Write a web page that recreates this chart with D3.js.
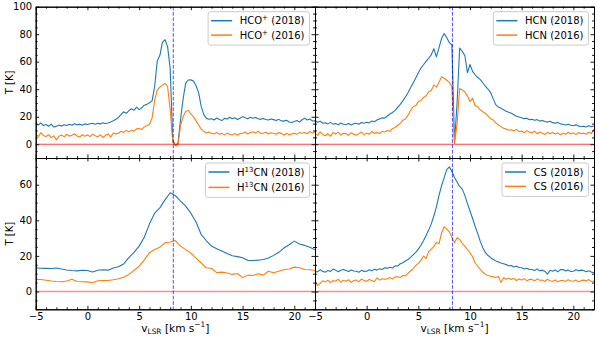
<!DOCTYPE html>
<html><head><meta charset="utf-8">
<script src="https://cdn.jsdelivr.net/npm/d3@7"></script>
<style>body{margin:0;background:#fff}svg{display:block;font-family:"DejaVu Sans",sans-serif}</style>
</head><body><svg id="c" width="598" height="339"></svg>
<script>
// ---- data (velocity grid: start -5 km/s; fine step 0.25, coarse step 0.5) ----
const velStart = -5;
const stepFine = 0.25;
const stepCoarse = 0.5;

const hcop2018 = [
 15.2,14.0,15.5,13.6, 14.3,13.1,14.6,12.5,
 13.0,13.9,13.2,14.2, 13.6,14.5,13.8,14.9,
 14.1,14.6,13.9,14.8, 14.3,14.9,15.3,14.6,
 15.2,14.8,15.6,15.1, 15.4,16.1,17.0,18.2,
 19.5,21.5,23.6,22.5, 24.3,25.8,24.6,27.0,
 25.2,26.5,28.4,29.0, 30.2,31.5,42.0,60.5,
 64.5,74.0,76.0,71.0, 55.0,3.0,-0.5,0.5,
 18.0,33.0,44.5,46.7, 46.8,46.0,42.5,37.5,
 27.5,21.5,18.8,18.2, 18.5,17.6,19.1,18.0,
 17.2,18.8,18.3,19.6, 18.5,19.2,18.0,18.9,
 20.1,19.2,18.5,19.6, 18.9,19.5,18.6,18.1,
 18.8,18.0,17.6,18.4, 17.9,17.3,18.1,17.0,
 16.8,17.5,16.2,15.8, 16.5,17.2,16.1,17.8,
 19.0,17.6,18.4,16.9,
 17.0];
const hcop2016 = [
 7.8,5.5,8.4,6.2, 5.6,7.0,4.8,6.1,
 3.2,5.9,6.8,5.4, 7.1,5.9,6.6,7.6,
 6.0,5.2,6.9,5.8, 6.8,5.6,7.3,6.2,
 5.5,6.8,4.9,6.5, 7.5,5.2,8.2,7.4,
 8.0,9.4,8.6,10.1, 9.0,10.3,9.5,11.2,
 11.5,10.8,12.6,13.5, 14.5,19.0,32.0,39.5,
 41.5,43.0,44.3,42.0, 25.0,1.5,-1.2,-1.0,
 13.5,20.0,24.0,24.5, 22.0,20.0,17.0,14.0,
 11.0,9.5,8.2,8.8, 8.0,7.4,8.6,7.2,
 7.9,6.8,8.1,7.3, 6.7,7.9,6.5,7.6,
 8.0,8.9,7.4,8.6, 9.0,8.1,9.5,7.8,
 8.0,8.7,7.5,8.3, 8.0,7.3,8.5,7.9,
 6.7,7.8,6.9,7.5, 8.0,7.2,8.6,8.0,
 8.5,7.6,9.2,8.1,
 9.0];
const hcn2018 = [
 17.2,16.0,16.8,15.3, 15.6,14.8,15.9,14.6,
 15.0,14.2,15.4,14.5, 14.3,15.1,14.0,14.9,
 15.2,14.6,15.8,15.3, 16.0,15.5,16.9,16.4,
 17.6,18.4,19.2,19.0, 20.5,22.0,23.1,24.6,
 26.8,29.0,31.5,34.3, 37.5,41.0,44.6,48.2,
 52.0,55.3,57.8,60.2, 62.5,65.0,69.5,63.5,
 70.0,77.0,80.5,77.5, 74.0,72.0,1.0,30.0,
 70.0,67.5,64.5,52.0, 58.0,53.0,50.5,48.5,
 47.0,44.5,42.0,40.0, 37.5,33.0,28.6,27.0,
 26.2,25.0,24.0,23.2, 22.5,21.4,20.3,19.8,
 19.2,18.6,18.9,17.8, 18.1,17.4,17.9,16.8,
 17.3,16.5,16.1,16.7, 15.7,15.2,15.9,14.8,
 14.5,14.0,14.6,13.8, 13.5,14.1,13.2,12.9,
 13.0,12.6,13.4,12.8,
 13.3];
const hcn2016 = [
 8.2,6.4,9.0,7.1, 6.2,7.8,5.9,8.5,
 7.4,8.8,6.6,8.0, 7.6,6.5,8.4,7.3,
 6.5,7.7,8.9,6.8, 8.1,7.2,9.3,7.9,
 8.6,7.8,9.4,8.9, 10.0,9.4,11.5,12.2,
 13.8,15.1,17.5,18.4, 21.0,24.5,27.3,28.1,
 31.0,31.8,34.0,35.2, 38.2,39.0,43.0,41.5,
 45.0,49.0,48.0,46.5, 45.0,42.0,0.5,15.0,
 40.5,39.5,38.2,35.0, 31.0,33.5,28.0,27.2,
 25.0,23.6,22.4,20.5, 18.5,17.6,15.5,14.0,
 12.8,11.6,11.0,10.2, 10.5,9.6,10.8,9.2,
 9.6,8.4,9.9,8.8, 8.4,9.5,7.6,8.9,
 8.0,7.1,8.6,7.7, 8.5,7.4,8.2,6.8,
 8.0,7.2,8.7,7.5, 8.3,7.0,8.6,7.6,
 8.1,7.3,8.8,7.9,
 11.0];
const h13cn2018 = [
 13.3,13.1,13.0,12.9,13.2,12.6,12.1,11.8,11.6,11.9,
 11.8,10.9,11.9,12.2,12.0,13.2,13.9,15.5,19.0,22.0,
 25.5,30.5,38.0,44.0,47.0,51.5,55.5,53.8,50.8,48.0,
 44.0,39.0,32.0,28.5,25.5,24.0,22.7,21.3,20.1,19.6,
 19.0,17.5,17.4,17.6,18.0,18.8,20.3,22.0,24.4,26.3,
 28.3,26.7,25.9,24.8,23.4];
const h13cn2016 = [
 6.8,6.7,6.3,5.9,5.6,5.5,5.9,6.9,5.6,5.5,
 5.4,4.9,6.0,6.1,6.2,6.6,7.2,8.0,9.6,11.8,
 14.3,17.8,21.8,23.6,24.8,27.4,27.8,28.6,25.5,23.5,
 21.5,18.8,16.0,13.3,12.9,10.6,10.9,10.4,9.6,10.1,
 7.8,9.2,9.0,10.0,9.2,11.4,10.5,11.4,12.2,12.6,
 13.7,13.3,12.4,12.2,11.8];
const cs2018 = [
 11.4,11.0,12.3,11.2, 10.9,11.8,11.3,12.6,
 12.0,11.1,11.9,12.4, 11.8,11.2,12.1,11.5,
 11.4,10.8,11.9,11.3, 11.4,12.2,11.6,12.5,
 12.0,12.8,12.4,13.3, 13.0,13.6,13.2,14.4,
 14.3,15.6,16.2,17.1, 18.0,19.2,20.6,22.0,
 23.8,26.0,28.5,31.5, 34.5,38.0,42.4,47.5,
 54.0,59.5,64.0,68.5, 70.0,67.5,64.0,61.5,
 59.0,57.5,54.0,49.5, 45.2,41.0,36.5,32.5,
 28.0,24.5,21.8,20.2, 19.0,18.0,17.2,16.6,
 16.0,15.6,15.1,14.5, 14.6,13.8,14.2,13.5,
 13.3,12.6,13.1,12.4, 12.4,11.8,12.7,11.6,
 12.0,11.3,9.8,11.9, 11.4,12.1,11.0,12.3,
 12.4,11.5,12.0,11.2, 11.4,12.2,11.6,12.0,
 11.8,11.1,11.6,10.9,
 10.5];
const cs2016 = [
 5.8,3.4,4.6,6.0, 5.3,6.4,5.0,6.1,
 5.8,6.9,5.2,6.3, 5.8,6.6,5.1,6.2,
 6.4,5.5,7.0,6.1, 5.8,6.7,6.2,5.5,
 7.7,6.4,7.2,6.9, 7.1,7.8,7.0,8.2,
 8.3,7.9,9.0,8.8, 10.2,11.5,12.8,14.6,
 15.8,17.5,19.9,18.6, 22.4,23.8,25.2,27.6,
 26.8,33.0,36.4,35.0, 33.5,30.5,27.4,30.2,
 29.3,27.0,25.5,23.6, 21.8,19.5,16.0,14.2,
 12.4,10.8,9.6,9.0, 8.6,8.2,7.9,8.4,
 5.0,7.7,6.9,7.5, 6.8,7.4,6.2,7.0,
 6.4,7.2,6.1,6.8, 6.8,6.0,7.1,6.3,
 6.4,5.6,6.9,6.0, 5.8,6.5,5.4,6.2,
 6.2,5.7,6.6,5.9, 5.8,6.4,5.5,6.1,
 6.4,5.9,6.7,5.6,
 5.8];

const xTicks = [-5, 0, 5, 10, 15, 20];
const xMinorTicks = [-4,-3,-2,-1,1,2,3,4,6,7,8,9,11,12,13,14,16,17,18,19,21,22];
const yTicksTop = [0, 20, 40, 60, 80, 100];
const yTicksBottom = [0, 20, 40, 60];
const yMinorTop = [-10,-5,5,10,15,25,30,35,45,50,55,65,70,75,85,90,95];
const yMinorBottom = [-10,-5,5,10,15,25,30,35,45,50,55,65,70,75];
const xDomain = [-5, 22];
const yDomainTop = [-10, 100];
const yDomainBottom = [-10, 75];
const vSys = 8.3;
const years = ["2018", "2016"];
// legend label pieces: [normal, superscript, normal]
const labelHCOp = ["HCO", "+", ""];
const labelHCN = ["HCN", "", ""];
const labelH13CN = ["H", "13", "CN"];
const labelCS = ["CS", "", ""];

// ---- layout ----
const blue = "#1f77b4", orange = "#ff7f0e";
const FS = 10;
const colX = [[35.7, 315], [315, 594]];
const rowY = [[6.7, 158], [158, 309.3]];

const panels = [
  {col:0,row:0,s18:hcop2018,s16:hcop2016,step:stepFine,lab:labelHCOp},
  {col:1,row:0,s18:hcn2018,s16:hcn2016,step:stepFine,lab:labelHCN},
  {col:0,row:1,s18:h13cn2018,s16:h13cn2016,step:stepCoarse,lab:labelH13CN},
  {col:1,row:1,s18:cs2018,s16:cs2016,step:stepFine,lab:labelCS}
];

const svg = d3.select("#c");
const defs = svg.append("defs");

panels.forEach((p, k) => {
  const [x0, x1] = colX[p.col];
  const [y0, y1] = rowY[p.row];
  const x = d3.scaleLinear().domain(xDomain).range([x0, x1]);
  const y = d3.scaleLinear().domain(p.row ? yDomainBottom : yDomainTop).range([y1, y0]);
  const g = svg.append("g");
  const cid = "clip" + k;
  defs.append("clipPath").attr("id", cid).append("rect")
    .attr("x", x0).attr("y", y0).attr("width", x1 - x0).attr("height", y1 - y0);
  const plot = g.append("g").attr("clip-path", `url(#${cid})`);
  const line = d3.line().x((d, i) => x(velStart + i * p.step)).y(d => y(d));
  plot.append("path").datum(p.s18).attr("d", line).attr("fill", "none")
    .attr("stroke", blue).attr("stroke-width", 1.1).attr("stroke-linejoin", "round");
  plot.append("path").datum(p.s16).attr("d", line).attr("fill", "none")
    .attr("stroke", orange).attr("stroke-width", 1.1).attr("stroke-linejoin", "round");
  // zero line
  plot.append("line").attr("x1", x0).attr("x2", x1).attr("y1", y(0)).attr("y2", y(0))
    .attr("stroke", "red").attr("stroke-opacity", p.row ? 0.45 : 0.75)
    .attr("stroke-width", p.row ? 1.6 : 1.1);
  // systemic velocity
  plot.append("line").attr("x1", x(vSys)).attr("x2", x(vSys)).attr("y1", y0).attr("y2", y1)
    .attr("stroke", "blue").attr("stroke-opacity", 0.7).attr("stroke-width", 1)
    .attr("stroke-dasharray", "3.7,1.6");

  // axes (inward ticks)
  const style = sel => {
    sel.attr("font-family", "DejaVu Sans").attr("font-size", FS);
    sel.selectAll(".domain").attr("stroke", "#000").attr("stroke-width", 1);
    sel.selectAll(".tick line").attr("stroke", "#000").attr("stroke-width", 0.9);
    sel.selectAll("text").attr("fill", "#000");
  };
  const noLab = () => "";
  g.append("g").attr("transform", `translate(0,${y1})`)
    .call(d3.axisBottom(x).tickValues(xTicks).tickSizeInner(-3.5).tickSizeOuter(0).tickPadding(3.5)
      .tickFormat(p.row ? d3.format("d") : noLab)).call(style);
  g.append("g").attr("transform", `translate(0,${y1})`)
    .call(d3.axisBottom(x).tickValues(xMinorTicks).tickSizeInner(-2).tickSizeOuter(0).tickFormat(noLab)).call(style);
  g.append("g").attr("transform", `translate(0,${y0})`)
    .call(d3.axisTop(x).tickValues(xTicks).tickSizeInner(-3.5).tickSizeOuter(0).tickFormat(noLab)).call(style);
  g.append("g").attr("transform", `translate(0,${y0})`)
    .call(d3.axisTop(x).tickValues(xMinorTicks).tickSizeInner(-2).tickSizeOuter(0).tickFormat(noLab)).call(style);
  const yt = p.row ? yTicksBottom : yTicksTop;
  const ym = p.row ? yMinorBottom : yMinorTop;
  g.append("g").attr("transform", `translate(${x0},0)`)
    .call(d3.axisLeft(y).tickValues(yt).tickSizeInner(-3.5).tickSizeOuter(0).tickPadding(3.5)
      .tickFormat(p.col ? noLab : d3.format("d"))).call(style);
  g.append("g").attr("transform", `translate(${x0},0)`)
    .call(d3.axisLeft(y).tickValues(ym).tickSizeInner(-2).tickSizeOuter(0).tickFormat(noLab)).call(style);
  g.append("g").attr("transform", `translate(${x1},0)`)
    .call(d3.axisRight(y).tickValues(yt).tickSizeInner(-3.5).tickSizeOuter(0).tickFormat(noLab)).call(style);
  g.append("g").attr("transform", `translate(${x1},0)`)
    .call(d3.axisRight(y).tickValues(ym).tickSizeInner(-2).tickSizeOuter(0).tickFormat(noLab)).call(style);

  // legend
  const hasSupNum = p.lab[1] && /\d/.test(p.lab[1]);
  const rowGap = hasSupNum ? 15.4 : 14.4;
  const lg = g.append("g");
  const box = lg.append("rect");
  const items = lg.selectAll("g.item").data(years).join("g").attr("class", "item");
  const texts = items.append("text").attr("font-size", FS).attr("fill", "#000");
  texts.each(function(yr) {
    const t = d3.select(this);
    t.append("tspan").text(p.lab[0]);
    if (p.lab[1]) {
      t.append("tspan").attr("dy", -4).attr("font-size", 7).text(p.lab[1]);
      t.append("tspan").attr("dy", 4).text(p.lab[2] + " (" + yr + ")");
    } else {
      t.append("tspan").text(" (" + yr + ")");
    }
  });
  let tw = 0;
  texts.each(function() { tw = Math.max(tw, this.getBBox().width); });
  const bw = 31.6 + tw + 5;
  const bh = 9 + rowGap + 10;
  const bx = x1 - 5.5 - bw, by = y0 + 5;
  box.attr("x", bx).attr("y", by).attr("width", bw).attr("height", bh).attr("rx", 2.5)
    .attr("fill", "#fff").attr("fill-opacity", 0.8).attr("stroke", "#cccccc").attr("stroke-width", 1);
  items.each(function(yr, i) {
    const it = d3.select(this);
    const cy = by + 9 + i * rowGap;
    it.insert("line", "text").attr("x1", bx + 3).attr("x2", bx + 24).attr("y1", cy).attr("y2", cy)
      .attr("stroke", i ? orange : blue).attr("stroke-width", 1.5);
    it.select("text").attr("x", bx + 31.6).attr("y", cy + 3.6);
  });
});

// axis labels
[[6.7, 158], [158, 309.3]].forEach(r => {
  svg.append("text").attr("transform", `translate(13,${(r[0] + r[1]) / 2}) rotate(-90)`)
    .attr("text-anchor", "middle").attr("font-size", FS).text("T [K]");
});
colX.forEach(c => {
  const t = svg.append("text").attr("x", (c[0] + c[1]) / 2).attr("y", 331.5)
    .attr("text-anchor", "middle").attr("font-size", 10.6);
  t.append("tspan").text("v");
  t.append("tspan").attr("dy", 2.3).attr("font-size", 7.4).text("LSR");
  t.append("tspan").attr("dy", -2.3).text(" [km s");
  t.append("tspan").attr("dy", -4.2).attr("font-size", 7.4).text("\u22121");
  t.append("tspan").attr("dy", 4.2).text("]");
});
</script></body></html>
